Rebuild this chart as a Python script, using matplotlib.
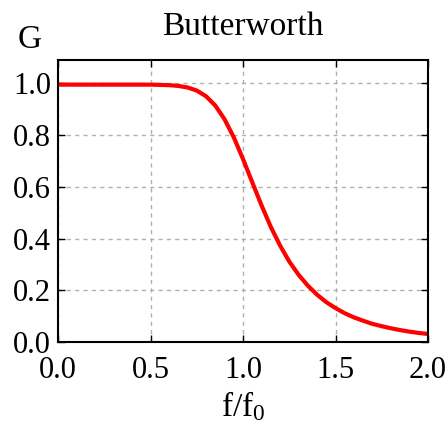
import matplotlib
matplotlib.use("Agg")
import matplotlib.pyplot as plt

# gain, f/f0 in 0.05 steps
freq = [0.00, 0.05, 0.10, 0.15, 0.20, 0.25, 0.30, 0.35, 0.40, 0.45,
        0.50, 0.55, 0.60, 0.65, 0.70, 0.75, 0.80, 0.85, 0.90, 0.95,
        1.00, 1.05, 1.10, 1.15, 1.20, 1.25, 1.30, 1.35, 1.40, 1.45,
        1.50, 1.55, 1.60, 1.65, 1.70, 1.75, 1.80, 1.85, 1.90, 1.95, 2.00]
gain = [0.995, 0.995, 0.995, 0.995, 0.995, 0.995, 0.995, 0.995, 0.995, 0.995,
        0.995, 0.994, 0.993, 0.990, 0.984, 0.972, 0.950, 0.914, 0.861, 0.791,
        0.707, 0.617, 0.528, 0.445, 0.373, 0.311, 0.260, 0.218, 0.183, 0.154,
        0.131, 0.111, 0.095, 0.082, 0.070, 0.061, 0.053, 0.046, 0.040, 0.035, 0.031]

xticks = [0.0, 0.5, 1.0, 1.5, 2.0]
yticks = [0.0, 0.2, 0.4, 0.6, 0.8, 1.0]

plt.rcParams['font.family'] = ['Liberation Serif', 'DejaVu Serif']
plt.rcParams['mathtext.default'] = 'regular'

fig = plt.figure(figsize=(4.47, 4.23), dpi=100)
ax = fig.add_axes([0.130, 0.1915, 0.8275, 0.6665])

ax.plot(freq, gain, color='red', lw=3, solid_capstyle='butt')

ax.set_xlim(0, 2.0)
ax.set_ylim(0, 1.09)
ax.set_xticks(xticks)
ax.set_yticks(yticks)
ax.set_xticklabels(['%.1f' % v for v in xticks])
ax.set_yticklabels(['%.1f' % v for v in yticks])
ax.tick_params(direction='in', length=5, width=1, labelsize=22,
               top=True, right=True, color='black')
ax.tick_params(axis='x', pad=10)
ax.tick_params(axis='y', pad=5)
ax.grid(True, color='#b0b0b0', linestyle=(0, (3, 3)), linewidth=1)
for s in ax.spines.values():
    s.set_linewidth(1.5)
    s.set_color('black')

ax.set_title('Butterworth', fontsize=24, pad=18)
ax.set_xlabel('f/f$_0$', fontsize=24, labelpad=3)
ax.text(-0.076, 1.071, 'G', transform=ax.transAxes, fontsize=24,
        ha='center', va='center')

fig.savefig('out.png', dpi=100)
